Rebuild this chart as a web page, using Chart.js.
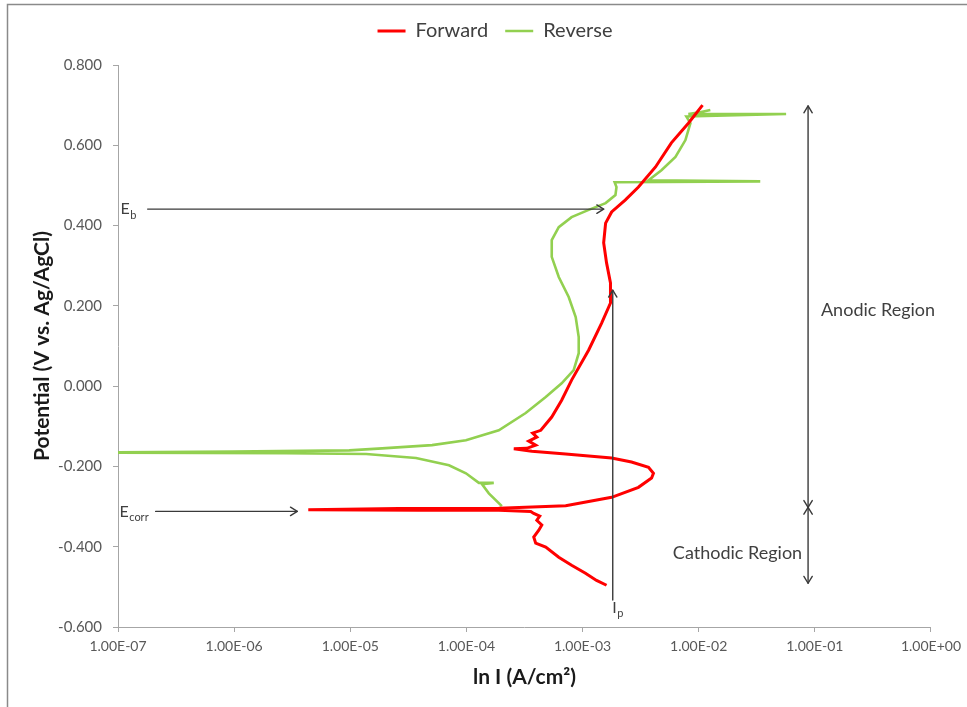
<!DOCTYPE html>
<html>
<head>
<meta charset="utf-8">
<script src="https://cdn.jsdelivr.net/npm/chart.js@4/dist/chart.umd.min.js"></script>
<style>
  html, body { margin: 0; padding: 0; background: #fff; }
  canvas { display: block; }
</style>
</head>
<body>
<canvas id="c" width="967" height="707"></canvas>
<script>
// Polarization scan: current density (A/cm2) against potential (V vs. Ag/AgCl)
const seriesNames = ['Forward', 'Reverse'];

const forwardCurrent = [
  1.61e-3, 1.32e-3, 1.06e-3, 8.05e-4, 6.24e-4, 4.82e-4, 3.95e-4, 3.80e-4, 4.20e-4, 4.46e-4,
  4.04e-4, 4.28e-4, 3.80e-4, 3.58e-4, 1.90e-4, 3.91e-5, 4.35e-6, 2.63e-5, 1.90e-4, 7.16e-4,
  1.78e-3, 3.03e-3, 3.93e-3, 4.08e-3, 3.70e-3, 2.64e-3, 1.78e-3, 7.16e-4, 3.66e-4, 2.56e-4,
  3.31e-4, 3.95e-4, 3.44e-4, 4.04e-4, 3.72e-4, 4.37e-4, 5.43e-4, 6.61e-4, 8.05e-4, 1.13e-3,
  1.46e-3, 1.74e-3, 1.74e-3, 1.61e-3, 1.52e-3, 1.58e-3, 1.78e-3, 2.34e-3, 3.03e-3, 4.25e-3,
  5.82e-3, 8.15e-3, 1.08e-2
];
const forwardPotential = [
  -0.496, -0.484, -0.466, -0.446, -0.426, -0.401, -0.391, -0.376, -0.359, -0.346,
  -0.334, -0.324, -0.317, -0.312, -0.309, -0.309, -0.308, -0.305, -0.304, -0.298,
  -0.277, -0.252, -0.229, -0.217, -0.202, -0.189, -0.179, -0.169, -0.162, -0.156,
  -0.155, -0.147, -0.137, -0.127, -0.117, -0.110, -0.077, -0.035, 0.015, 0.090,
  0.157, 0.207, 0.257, 0.307, 0.357, 0.406, 0.434, 0.464, 0.496, 0.546,
  0.606, 0.655, 0.700
];

const reverseCurrent = [
  1.26e-2, 1.05e-2, 8.15e-3, 5.66e-2, 7.83e-3, 8.49e-3, 7.69e-3, 6.31e-3, 4.78e-3, 3.70e-3,
  3.39e-2, 1.89e-3, 1.96e-3, 1.92e-3, 1.58e-3, 1.13e-3, 8.05e-4, 6.24e-4, 5.43e-4, 5.43e-4,
  6.24e-4, 7.60e-4, 8.73e-4, 9.27e-4, 9.27e-4, 8.39e-4, 6.61e-4, 4.82e-4, 3.24e-4, 1.90e-4,
  9.91e-5, 5.06e-5, 1.88e-5, 9.80e-6, 9.66e-7, 1.00e-7, 1.00e-7, 2.81e-6, 1.37e-5, 3.68e-5,
  7.08e-5, 9.91e-5, 1.28e-4, 1.72e-4, 1.36e-4, 1.56e-4, 2.02e-4
];
const reversePotential = [
  0.688, 0.683, 0.678, 0.678, 0.672, 0.655, 0.613, 0.571, 0.538, 0.513,
  0.510, 0.508, 0.496, 0.476, 0.456, 0.439, 0.421, 0.396, 0.364, 0.322,
  0.272, 0.222, 0.172, 0.122, 0.082, 0.040, 0.007, -0.027, -0.067, -0.110,
  -0.135, -0.147, -0.155, -0.160, -0.163, -0.165, -0.166, -0.167, -0.169, -0.179,
  -0.197, -0.217, -0.241, -0.241, -0.244, -0.267, -0.299
];

const xTickValues = [1e-7, 1e-6, 1e-5, 1e-4, 1e-3, 1e-2, 1e-1, 1];
const xTickLabels = ['1.00E-07', '1.00E-06', '1.00E-05', '1.00E-04', '1.00E-03', '1.00E-02', '1.00E-01', '1.00E+00'];
const yTickValues = [-0.6, -0.4, -0.2, 0, 0.2, 0.4, 0.6, 0.8];
const yTickLabels = ['-0.600', '-0.400', '-0.200', '0.000', '0.200', '0.400', '0.600', '0.800'];

// Explanatory arrows and labels, placed in data units [current, potential]
const arrowLines = [
  { from: [1.80e-7, 0.441], to: [1.52e-3, 0.441], heads: ['end'] },
  { from: [2.11e-7, -0.312], to: [3.50e-6, -0.312], heads: ['end'] },
  { from: [1.82e-3, -0.533], to: [1.82e-3, 0.239], heads: ['end'] },
  { from: [8.75e-2, -0.302], to: [8.75e-2, 0.698], heads: ['start', 'end'] },
  { from: [8.75e-2, -0.491], to: [8.75e-2, -0.302], heads: ['start', 'end'] }
];
const noteLabels = [
  { text: 'E', sub: 'b', at: [1.05e-7, 0.441], align: 'left', size: 16 },
  { text: 'E', sub: 'corr', at: [1.03e-7, -0.312], align: 'left', size: 16 },
  { text: 'I', sub: 'p', at: [1.80e-3, -0.552], align: 'left', size: 16 },
  { text: 'Anodic Region', sub: '', at: [0.113, 0.189], align: 'left', size: 18 },
  { text: 'Cathodic Region', sub: '', at: [0.0778, -0.416], align: 'right', size: 18 }
];

const FONT = 'Lato, "Open Sans", "DejaVu Sans", sans-serif';

const toPoints = (xs, ys) => xs.map((x, i) => ({ x: x, y: ys[i] }));

const framePlugin = {
  id: 'frame',
  beforeDraw(chart) {
    const ctx = chart.ctx;
    ctx.save();
    ctx.fillStyle = '#ffffff';
    ctx.fillRect(0, 0, chart.width, chart.height);
    ctx.strokeStyle = '#8a8a8a';
    ctx.lineWidth = 1.5;
    ctx.beginPath();
    ctx.moveTo(7.5, chart.height + 2);
    ctx.lineTo(7.5, 4.5);
    ctx.lineTo(chart.width + 2, 4.5);
    ctx.stroke();
    ctx.restore();
  }
};

function drawHead(ctx, tipX, tipY, dirX, dirY) {
  const len = 8, spread = 0.55;
  const ang = Math.atan2(dirY, dirX);
  ctx.beginPath();
  ctx.moveTo(tipX - len * Math.cos(ang - spread), tipY - len * Math.sin(ang - spread));
  ctx.lineTo(tipX, tipY);
  ctx.lineTo(tipX - len * Math.cos(ang + spread), tipY - len * Math.sin(ang + spread));
  ctx.stroke();
}

const notesPlugin = {
  id: 'notes',
  afterDatasetsDraw(chart) {
    const ctx = chart.ctx;
    const xs = chart.scales.x, ys = chart.scales.y;
    ctx.save();
    ctx.strokeStyle = '#3a3a3a';
    ctx.lineWidth = 1.4;
    ctx.lineCap = 'round';
    ctx.lineJoin = 'round';
    arrowLines.forEach(a => {
      const x1 = xs.getPixelForValue(a.from[0]), y1 = ys.getPixelForValue(a.from[1]);
      const x2 = xs.getPixelForValue(a.to[0]), y2 = ys.getPixelForValue(a.to[1]);
      ctx.beginPath();
      ctx.moveTo(x1, y1);
      ctx.lineTo(x2, y2);
      ctx.stroke();
      if (a.heads.includes('end')) drawHead(ctx, x2, y2, x2 - x1, y2 - y1);
      if (a.heads.includes('start')) drawHead(ctx, x1, y1, x1 - x2, y1 - y2);
    });
    ctx.fillStyle = '#404040';
    ctx.textBaseline = 'middle';
    noteLabels.forEach(n => {
      const px = xs.getPixelForValue(n.at[0]), py = ys.getPixelForValue(n.at[1]);
      const subSize = Math.round(n.size * 0.7);
      ctx.font = n.size + 'px ' + FONT;
      const mainW = ctx.measureText(n.text).width;
      ctx.font = subSize + 'px ' + FONT;
      const subW = n.sub ? ctx.measureText(n.sub).width : 0;
      const left = n.align === 'right' ? px - mainW - subW : px;
      ctx.font = n.size + 'px ' + FONT;
      ctx.textAlign = 'left';
      ctx.fillText(n.text, left, py);
      if (n.sub) {
        ctx.font = subSize + 'px ' + FONT;
        ctx.fillText(n.sub, left + mainW + 0.5, py + 6);
      }
    });
    ctx.restore();
  }
};

new Chart(document.getElementById('c'), {
  type: 'scatter',
  data: {
    datasets: [
      {
        label: seriesNames[0],
        data: toPoints(forwardCurrent, forwardPotential),
        showLine: true,
        borderColor: '#ff0000',
        backgroundColor: '#ff0000',
        borderWidth: 3,
        pointRadius: 0,
        tension: 0
      },
      {
        label: seriesNames[1],
        data: toPoints(reverseCurrent, reversePotential),
        showLine: true,
        borderColor: '#92d050',
        backgroundColor: '#92d050',
        borderWidth: 2.6,
        pointRadius: 0,
        tension: 0
      }
    ]
  },
  options: {
    responsive: false,
    animation: false,
    layout: { padding: { left: 57, right: 34, top: 4, bottom: 0 } },
    plugins: {
      legend: {
        position: 'top',
        weight: 1000,
        labels: {
          boxWidth: 28,
          boxHeight: 0,
          padding: 17,
          color: '#404040',
          font: { family: FONT, size: 20 }
        }
      },
      // empty spacer strip between the legend and the plot
      title: {
        display: true,
        text: ' ',
        position: 'top',
        weight: 500,
        color: 'rgba(0,0,0,0)',
        font: { family: FONT, size: 10 },
        padding: { top: 1, bottom: 1 }
      },
      tooltip: { enabled: false }
    },
    scales: {
      x: {
        type: 'logarithmic',
        min: 1e-7,
        max: 1,
        afterBuildTicks(scale) { scale.ticks = xTickValues.map(v => ({ value: v })); },
        afterFit(scale) { scale.height = 80; },
        ticks: {
          autoSkip: false,
          maxRotation: 0,
          padding: 6,
          color: '#595959',
          font: { family: FONT, size: 14 },
          callback: (v) => xTickLabels[xTickValues.findIndex(t => Math.abs(Math.log10(t) - Math.log10(v)) < 1e-6)]
        },
        grid: { display: true, drawOnChartArea: false, tickLength: 5, color: '#a6a6a6' },
        border: { display: true, color: '#a6a6a6', width: 1 },
        title: {
          display: true,
          text: 'ln I (A/cm²)',
          color: '#1a1a1a',
          font: { family: FONT, size: 21, weight: 'bold' },
          padding: { top: 4, bottom: 17.4 }
        }
      },
      y: {
        min: -0.6,
        max: 0.8,
        afterBuildTicks(scale) { scale.ticks = yTickValues.map(v => ({ value: v })); },
        afterFit(scale) { scale.width = 61; },
        ticks: {
          padding: 11,
          color: '#595959',
          font: { family: FONT, size: 15 },
          callback: (v) => yTickLabels[yTickValues.findIndex(t => Math.abs(t - v) < 1e-9)]
        },
        grid: { display: true, drawOnChartArea: false, tickLength: 5, color: '#a6a6a6' },
        border: { display: true, color: '#a6a6a6', width: 1 },
        title: {
          display: true,
          text: 'Potential (V vs. Ag/AgCl)',
          color: '#1a1a1a',
          font: { family: FONT, size: 21, weight: 'bold' },
          padding: { top: -27.6, bottom: 0 }
        }
      }
    }
  },
  plugins: [framePlugin, notesPlugin]
});
</script>
</body>
</html>
